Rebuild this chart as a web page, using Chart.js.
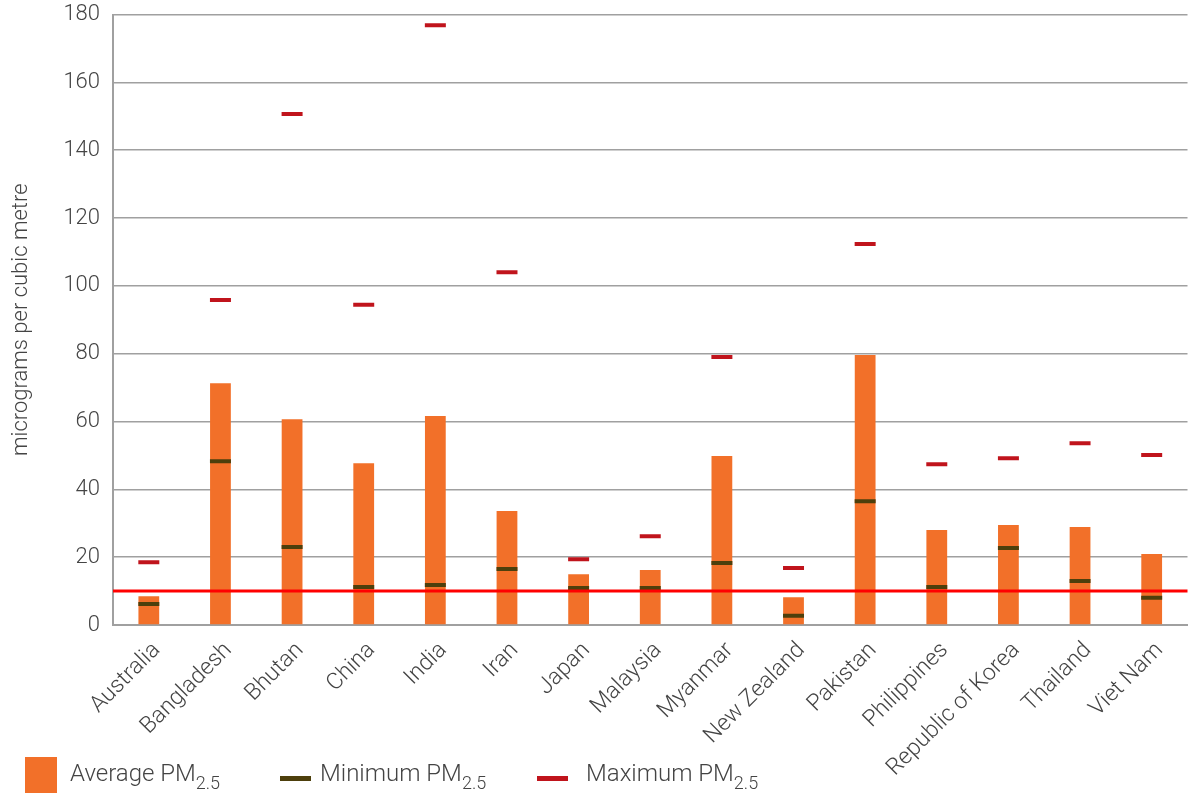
<!DOCTYPE html>
<html>
<head>
<meta charset="utf-8">
<script src="https://cdn.jsdelivr.net/npm/chart.js@4.4.1/dist/chart.umd.min.js"></script>
<style>
  html, body { margin: 0; padding: 0; background: #fff; overflow: hidden; }
  #wrap { position: relative; width: 1202px; height: 794px; }
  .item { position: absolute; white-space: nowrap; font-family: Roboto, sans-serif; font-weight: 300;
          font-size: 24px; line-height: 28px; color: #444; }
  .item sub { font-size: 18px; vertical-align: -8px; line-height: 0; }
  .sw { position: absolute; }
</style>
</head>
<body>
<div id="wrap">
  <canvas id="pmChart"></canvas>
  <div class="sw" style="left:25px; top:757px; width:32px; height:36px; background:#f27029;"></div>
  <div class="item" style="left:70px; top:759px;">Average PM<sub>2.5</sub></div>
  <div class="sw" style="left:280px; top:776px; width:31px; height:5px; background:#4d3f0c;"></div>
  <div class="item" style="left:320px; top:759px;">Minimum PM<sub>2.5</sub></div>
  <div class="sw" style="left:537px; top:776px; width:31px; height:5px; background:#c0141c;"></div>
  <div class="item" style="left:586px; top:759px;">Maximum PM<sub>2.5</sub></div>
</div>
<script>
const countries = ['Australia', 'Bangladesh', 'Bhutan', 'China', 'India', 'Iran', 'Japan', 'Malaysia',
  'Myanmar', 'New Zealand', 'Pakistan', 'Philippines', 'Republic of Korea', 'Thailand', 'Viet Nam'];
const averagePM = [8.5, 71.3, 60.7, 47.7, 61.6, 33.6, 15.0, 16.2, 49.8, 8.2, 79.6, 28.0, 29.5, 28.9, 20.9];
const minimumPM = [6.2, 48.3, 23.0, 11.2, 11.8, 16.5, 10.9, 10.9, 18.3, 2.7, 36.5, 11.2, 22.7, 13.0, 8.0];
const maximumPM = [18.5, 95.8, 150.7, 94.4, 176.8, 104.0, 19.4, 26.2, 79.0, 16.8, 112.3, 47.4, 49.2, 53.6, 50.1];
const guideline = 10;

// horizontal guideline across the whole plot
const guidelinePlugin = {
  id: 'guideline',
  afterDatasetsDraw(chart) {
    const y = chart.scales.y.getPixelForValue(guideline);
    const ctx = chart.ctx;
    ctx.save();
    ctx.strokeStyle = '#ff0000';
    ctx.lineWidth = 3;
    ctx.beginPath();
    ctx.moveTo(chart.chartArea.left, y);
    ctx.lineTo(chart.chartArea.right, y);
    ctx.stroke();
    ctx.restore();
  }
};

function markerSet(label, data, color) {
  return {
    type: 'line',
    label: label,
    data: data,
    showLine: false,
    pointStyle: 'line',
    pointRadius: 10.5,
    pointHoverRadius: 10.5,
    pointBorderWidth: 4,
    borderColor: color,
    backgroundColor: color,
    order: 0
  };
}

function initChart() {
  const ctx = document.getElementById('pmChart').getContext('2d');
  new Chart(ctx, {
    type: 'bar',
    data: {
      labels: countries,
      datasets: [
        markerSet('Minimum PM2.5', minimumPM, '#4d3f0c'),
        markerSet('Maximum PM2.5', maximumPM, '#c0141c'),
        {
          label: 'Average PM2.5',
          data: averagePM,
          backgroundColor: '#f27029',
          barPercentage: 0.29,
          categoryPercentage: 1,
          order: 1
        }
      ]
    },
    options: {
      responsive: true,
      maintainAspectRatio: false,
      animation: false,
      layout: { padding: { top: 14, right: 0, bottom: 0, left: 0 } },
      plugins: { legend: { display: false }, tooltip: { enabled: false } },
      scales: {
        x: {
          grid: { display: false, drawTicks: false },
          border: { color: '#a0a0a0', width: 2 },
          ticks: {
            color: '#444',
            font: { family: 'Roboto', weight: 300, size: 23 },
            maxRotation: 45, minRotation: 45, padding: 12, labelOffset: 8, autoSkip: false
          },
          afterFit(scale) { scale.height = 169; }
        },
        y: {
          min: 0, max: 180,
          ticks: {
            stepSize: 20, color: '#444', padding: 13,
            font: { family: 'Roboto', weight: 300, size: 22 }
          },
          grid: { color: '#a0a0a0', lineWidth: 1.5, drawTicks: false },
          border: { color: '#a0a0a0', width: 2 },
          title: {
            display: true, text: 'micrograms per cubic metre', color: '#444',
            font: { family: 'Roboto', weight: 300, size: 22 }, padding: { top: 8, bottom: 0 }
          },
          afterFit(scale) {
            scale.width = 113;
            scale.paddingTop = 0;
            scale.paddingBottom = 0;
          }
        }
      }
    },
    plugins: [guidelinePlugin]
  });
}

window.onload = initChart;
</script>
</body>
</html>
